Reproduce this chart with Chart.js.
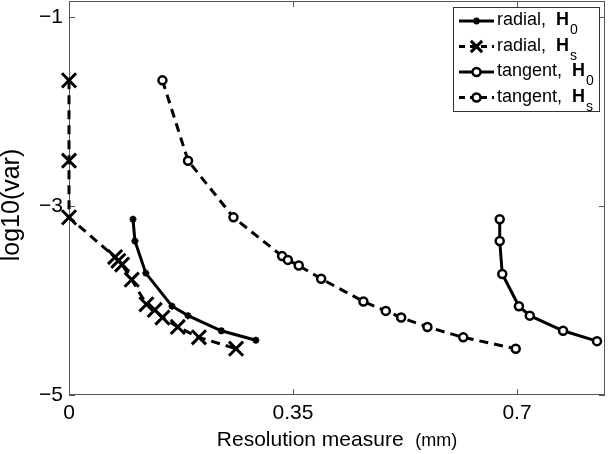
<!DOCTYPE html>
<html>
<head>
<meta charset="utf-8">
<script src="https://cdn.jsdelivr.net/npm/chart.js@4"></script>
<style>
  html, body { margin: 0; padding: 0; background: #fff; }
  #wrap { width: 609px; height: 454px; }
</style>
</head>
<body>
<div id="wrap"><canvas id="chart"></canvas></div>
<script>
// values
const xTicks = [0, 0.35, 0.7];
const yTicks = [-5, -3, -1];

const radialH0X = [0.100, 0.103, 0.120, 0.161, 0.186, 0.238, 0.292];
const radialH0Y = [-3.14, -3.37, -3.71, -4.06, -4.16, -4.32, -4.42];

const radialHsX = [0, 0, 0, 0.072, 0.077, 0.083, 0.098, 0.121, 0.134, 0.146, 0.170, 0.203, 0.261];
const radialHsY = [-1.67, -2.52, -3.12, -3.54, -3.58, -3.62, -3.78, -4.04, -4.10, -4.18, -4.28, -4.39, -4.51];

const tangentH0X = [0.673, 0.673, 0.677, 0.703, 0.720, 0.772, 0.825];
const tangentH0Y = [-3.14, -3.37, -3.72, -4.06, -4.16, -4.32, -4.43];

const tangentHsX = [0.146, 0.186, 0.257, 0.333, 0.342, 0.359, 0.394, 0.460, 0.495, 0.519, 0.560, 0.616, 0.698];
const tangentHsY = [-1.67, -2.52, -3.12, -3.53, -3.57, -3.63, -3.77, -4.01, -4.11, -4.18, -4.28, -4.39, -4.51];

const legendNames = ['radial,', 'radial,', 'tangent,', 'tangent,'];
const legendSubs = ['0', 's', '0', 's'];

function pts(xs, ys) {
  return xs.map((x, i) => ({ x: x, y: ys[i] }));
}

const FONT = '"Liberation Sans", Arial, sans-serif';

const styles = [
  { dash: [], pointStyle: 'star', radius: 3.5, pw: 2 },
  { dash: [9, 6], pointStyle: 'crossRot', radius: 10, pw: 3 },
  { dash: [], pointStyle: 'circle', radius: 4, pw: 2.5 },
  { dash: [9, 6], pointStyle: 'circle', radius: 4, pw: 2.5 }
];

function makeSet(data, s) {
  return {
    data: data,
    showLine: true,
    clip: false,
    borderColor: '#000',
    borderWidth: 3,
    borderDash: s.dash,
    pointStyle: s.pointStyle,
    pointRadius: s.radius,
    pointBorderWidth: s.pw,
    pointBorderColor: '#000',
    pointBackgroundColor: '#fff',
    backgroundColor: '#fff',
    tension: 0
  };
}

// frame, inward ticks, custom legend and axis titles
const decor = {
  id: 'decor',
  beforeDatasetsDraw(chart) {
    const ctx = chart.ctx;
    const a = chart.chartArea;
    const xs = chart.scales.x, ys = chart.scales.y;
    ctx.save();
    ctx.strokeStyle = '#555';
    ctx.lineWidth = 1;
    ctx.strokeRect(a.left + 0.5, a.top + 0.5, a.right - a.left - 1, a.bottom - a.top - 1);
    xTicks.forEach(v => {
      const px = Math.round(xs.getPixelForValue(v)) + 0.5;
      ctx.beginPath();
      ctx.moveTo(px, a.bottom); ctx.lineTo(px, a.bottom - 6);
      ctx.moveTo(px, a.top); ctx.lineTo(px, a.top + 6);
      ctx.stroke();
    });
    yTicks.forEach(v => {
      const py = Math.round(ys.getPixelForValue(v)) + 0.5;
      ctx.beginPath();
      ctx.moveTo(a.left, py); ctx.lineTo(a.left + 6, py);
      ctx.moveTo(a.right, py); ctx.lineTo(a.right - 6, py);
      ctx.stroke();
    });
    ctx.restore();
  },
  afterDraw(chart) {
    const ctx = chart.ctx;
    const a = chart.chartArea;
    ctx.save();

    // x title
    ctx.fillStyle = '#000';
    ctx.textBaseline = 'alphabetic';
    const t1 = 'Resolution measure  ', t2 = '(mm)';
    ctx.font = '21px ' + FONT;
    const w1 = ctx.measureText(t1).width;
    ctx.font = '18px ' + FONT;
    const w2 = ctx.measureText(t2).width;
    let x0 = (a.left + a.right) / 2 - (w1 + w2) / 2;
    ctx.font = '21px ' + FONT;
    ctx.textAlign = 'left';
    ctx.fillText(t1, x0, 446);
    ctx.font = '18px ' + FONT;
    ctx.fillText(t2, x0 + w1, 446);

    // y title
    ctx.save();
    ctx.translate(19, 205);
    ctx.rotate(-Math.PI / 2);
    ctx.font = '25px ' + FONT;
    ctx.textAlign = 'center';
    ctx.fillText('log10(var)', 0, 0);
    ctx.restore();

    // legend
    const bx = 453, by = 7, bw = 146, bh = 104;
    ctx.fillStyle = '#fff';
    ctx.fillRect(bx, by, bw, bh);
    ctx.strokeStyle = '#333';
    ctx.lineWidth = 1;
    ctx.strokeRect(bx + 0.5, by + 0.5, bw, bh);
    legendNames.forEach((name, i) => {
      const ry = 21 + i * 25.5;
      const s = styles[i];
      ctx.strokeStyle = '#000';
      ctx.lineWidth = 3;
      ctx.setLineDash(s.dash.length ? [6, 5] : []);
      ctx.beginPath();
      ctx.moveTo(459, ry); ctx.lineTo(494, ry);
      ctx.stroke();
      ctx.setLineDash([]);
      ctx.lineWidth = s.pw;
      ctx.fillStyle = '#fff';
      Chart.helpers.drawPoint(ctx, {
        pointStyle: s.pointStyle, radius: s.pointStyle === 'crossRot' ? 8 : s.radius,
        rotation: 0, borderWidth: s.pw
      }, 476.5, ry);
      ctx.fillStyle = '#000';
      ctx.textAlign = 'left';
      ctx.font = '18px ' + FONT;
      const tx = 497;
      ctx.fillText(name + '  ', tx, ry + 4);
      const nw = ctx.measureText(name + '  ').width;
      ctx.font = 'bold 18px ' + FONT;
      ctx.fillText('H', tx + nw, ry + 4);
      const hw = ctx.measureText('H').width;
      ctx.font = '14px ' + FONT;
      ctx.fillText(legendSubs[i], tx + nw + hw + 1, ry + 13);
    });
    ctx.restore();
  }
};

new Chart(document.getElementById('chart'), {
  type: 'scatter',
  data: {
    datasets: [
      makeSet(pts(radialH0X, radialH0Y), styles[0]),
      makeSet(pts(radialHsX, radialHsY), styles[1]),
      makeSet(pts(tangentH0X, tangentH0Y), styles[2]),
      makeSet(pts(tangentHsX, tangentHsY), styles[3])
    ]
  },
  plugins: [decor],
  options: {
    responsive: true,
    maintainAspectRatio: false,
    animation: false,
    layout: { autoPadding: false, padding: { top: 1, right: 4, left: 0, bottom: 0 } },
    plugins: { legend: { display: false }, tooltip: { enabled: false } },
    scales: {
      x: {
        type: 'linear',
        min: 0,
        max: 0.8375,
        afterBuildTicks(s) { s.ticks = xTicks.map(v => ({ value: v })); },
        afterFit(s) { s.height = 59; s.paddingLeft = 0; s.paddingRight = 0; },
        grid: { display: false, drawTicks: false },
        border: { display: false },
        ticks: {
          color: '#000',
          font: { family: FONT, size: 21 },
          padding: 6,
          maxRotation: 0,
          callback: v => String(v)
        }
      },
      y: {
        type: 'linear',
        min: -5,
        max: -0.83,
        afterBuildTicks(s) { s.ticks = yTicks.map(v => ({ value: v })); },
        afterFit(s) { s.width = 69; s.paddingTop = 0; s.paddingBottom = 0; },
        grid: { display: false, drawTicks: false },
        border: { display: false },
        ticks: {
          color: '#000',
          font: { family: FONT, size: 21 },
          padding: 6,
          callback: v => String(v).replace('-', '\u2212')
        }
      }
    }
  }
});
</script>
</body>
</html>
